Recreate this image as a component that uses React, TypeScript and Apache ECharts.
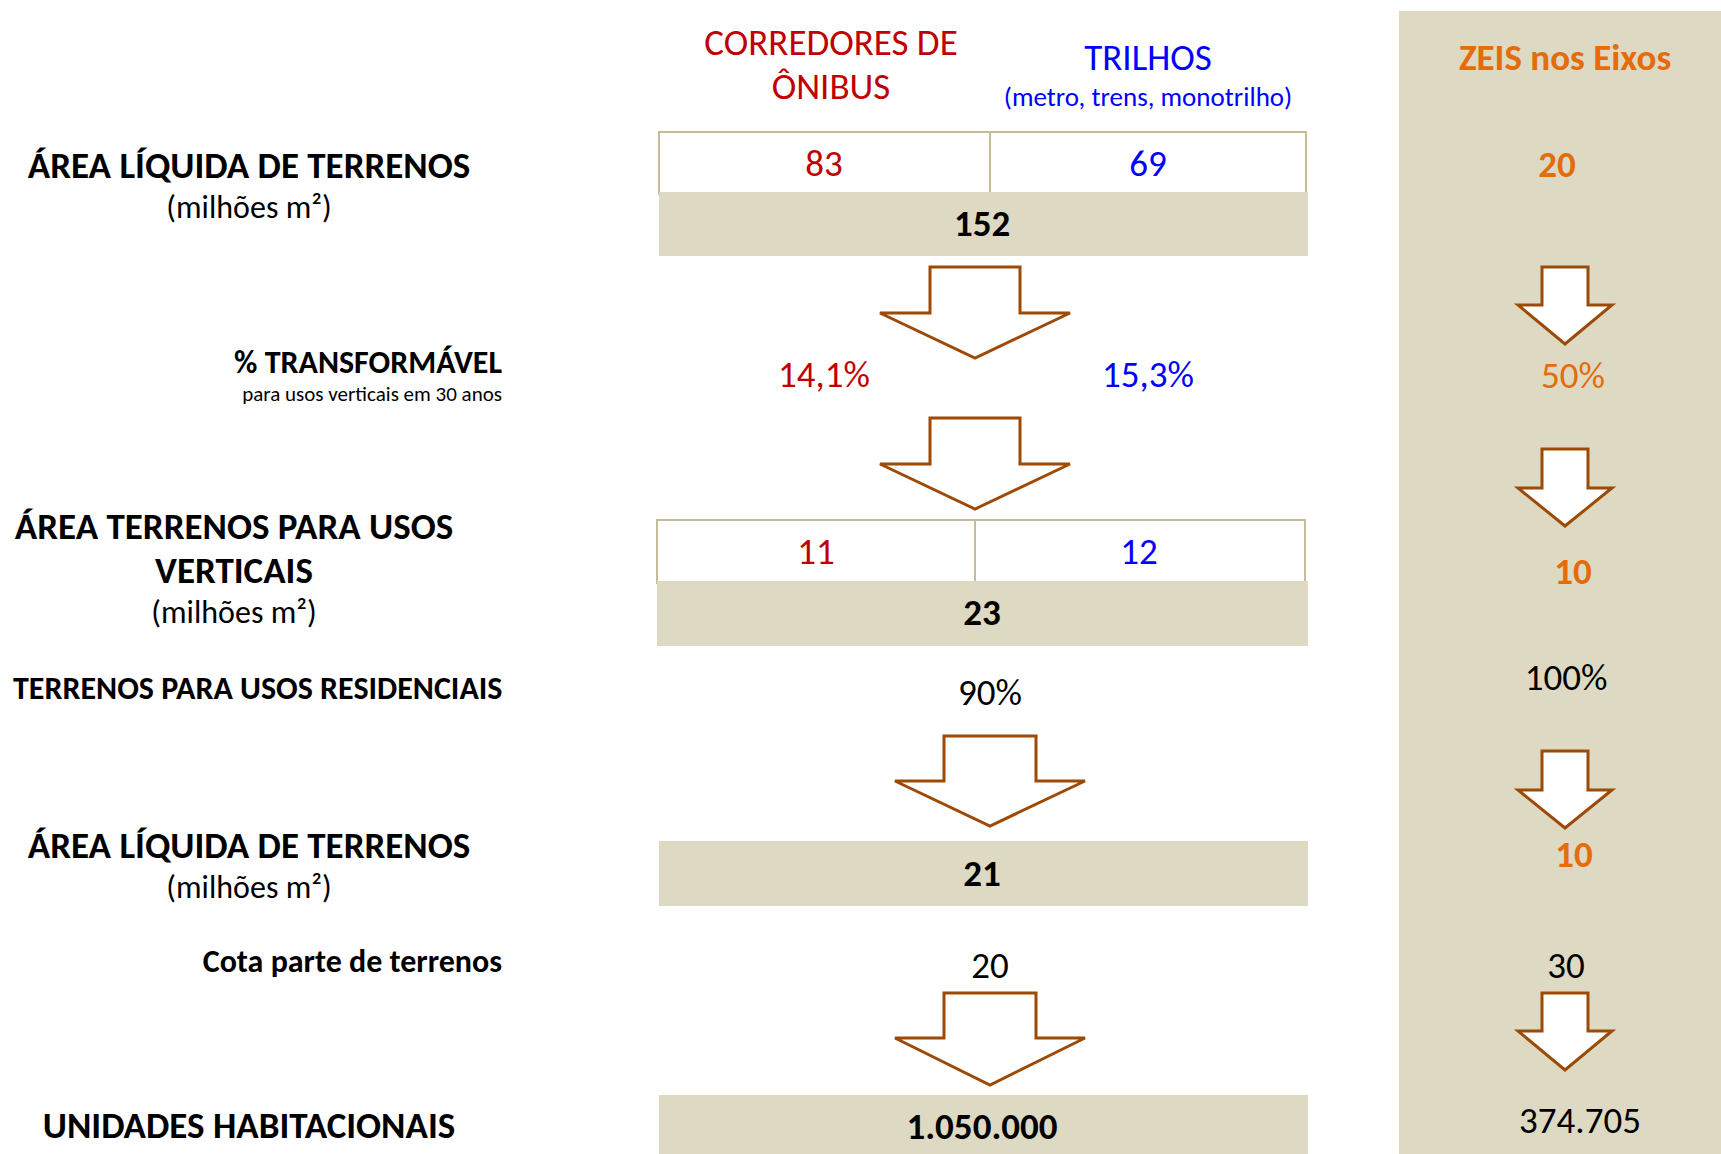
import React, { useEffect, useRef } from "react";
import * as echarts from "echarts";

const FONT = "Carlito, Lato, 'Open Sans', sans-serif";

const RED = "#C00000";
const BLUE = "#0000FF";
const ORANGE = "#E46C0A";
const TAN = "#DDD9C3";
const BORDER = "#C4BD97";
const ARROW = "#9C4A06";

// Row labels (left column)
const rowTitles = [
  "ÁREA LÍQUIDA DE TERRENOS",
  "% TRANSFORMÁVEL",
  "ÁREA TERRENOS PARA USOS",
  "VERTICAIS",
  "TERRENOS PARA USOS RESIDENCIAIS",
  "ÁREA LÍQUIDA DE TERRENOS",
  "Cota parte de terrenos",
  "UNIDADES HABITACIONAIS",
];
const unitLabel = "(milhões m²)";
const transfSub = "para usos verticais em 30 anos";

// Column headers
const busHeader = ["CORREDORES DE", "ÔNIBUS"];
const railHeader = ["TRILHOS", "(metro, trens, monotrilho)"];
const zeisHeader = "ZEIS nos Eixos";

// Values
const busValues = ["83", "14,1%", "11"];
const railValues = ["69", "15,3%", "12"];
const totalValues = ["152", "23", "21", "1.050.000"];
const sharedValues = ["90%", "20"];
const zeisValues = ["20", "50%", "10", "100%", "10", "30", "374.705"];

const DY = -2;

function txt(x: number, y: number, text: string, size: number, fill: string, bold = false, align = "center") {
  return {
    type: "text",
    x,
    y: y + DY,
    silent: true,
    style: {
      text,
      fill,
      fontSize: size,
      fontWeight: bold ? "bold" : "normal",
      fontFamily: FONT,
      align,
      verticalAlign: "middle",
      textAlign: align,
      textVerticalAlign: "middle",
    },
  };
}

function arrow(cx: number, top: number, head: number, tip: number, sh: number, hh: number) {
  return {
    type: "polygon",
    silent: true,
    shape: {
      points: [
        [cx - sh, top],
        [cx + sh, top],
        [cx + sh, head],
        [cx + hh, head],
        [cx, tip],
        [cx - hh, head],
        [cx - sh, head],
      ],
    },
    style: { fill: "#ffffff", stroke: ARROW, lineWidth: 3 },
  };
}

function rect(x: number, y: number, w: number, h: number, fill: string, stroke?: string) {
  return {
    type: "rect",
    silent: true,
    shape: { x, y, width: w, height: h },
    style: stroke ? { fill, stroke, lineWidth: 2 } : { fill },
  };
}

function line(x1: number, y1: number, x2: number, y2: number) {
  return {
    type: "line",
    silent: true,
    shape: { x1, y1, x2, y2 },
    style: { stroke: BORDER, lineWidth: 2 },
  };
}

export default function App() {
  const ref = useRef<HTMLDivElement>(null);
  useEffect(() => {
    if (!ref.current) return;
    const chart = echarts.init(ref.current, undefined, { renderer: "svg" });
    const BX = 659;
    const BW = 649;
    const V = 37;
    const S = 32;
    const elements: any[] = [
      // right panel
      rect(1399, 11, 322, 1143, TAN),
      // box 1
      rect(BX, 132, 647, 62, "#ffffff", BORDER),
      line(990, 132, 990, 192),
      rect(BX, 192, BW, 64, TAN),
      // box 2
      rect(657, 520, 648, 63, "#ffffff", BORDER),
      line(975, 520, 975, 581),
      rect(657, 581, 651, 65, TAN),
      // total 3
      rect(BX, 841, BW, 65, TAN),
      // total 4
      rect(BX, 1095, BW, 59, TAN),
      // arrows middle
      arrow(975, 267, 313, 358, 45, 95),
      arrow(975, 418, 464, 509, 45, 95),
      arrow(990, 736, 781, 826, 46, 95),
      arrow(990, 993, 1038, 1085, 46, 95),
      // arrows right
      arrow(1565, 267, 305, 344, 23, 47),
      arrow(1565, 449, 488, 526, 23, 47),
      arrow(1565, 751, 790, 828, 23, 47),
      arrow(1565, 993, 1031, 1070, 23, 47),

      // headers
      txt(831, 44, busHeader[0], V, RED),
      txt(831, 88, busHeader[1], V, RED),
      txt(1148, 59, railHeader[0], V, BLUE),
      txt(1148, 98, railHeader[1], 27, BLUE),
      txt(1565, 59, zeisHeader, V, ORANGE, true),

      // left labels
      txt(249, 167, rowTitles[0], V, "#000", true),
      txt(249, 209, unitLabel, S, "#000"),
      txt(502, 364, rowTitles[1], S, "#000", true, "right"),
      txt(502, 396, transfSub, 21, "#000", false, "right"),
      txt(234, 528, rowTitles[2], V, "#000", true),
      txt(234, 572, rowTitles[3], V, "#000", true),
      txt(234, 614, unitLabel, S, "#000"),
      txt(13, 690, rowTitles[4], S, "#000", true, "left"),
      txt(249, 847, rowTitles[5], V, "#000", true),
      txt(249, 889, unitLabel, S, "#000"),
      txt(502, 963, rowTitles[6], S, "#000", true, "right"),
      txt(249, 1127, rowTitles[7], V, "#000", true),

      // bus / rail values
      txt(824, 165, busValues[0], V, RED),
      txt(1148, 165, railValues[0], V, BLUE),
      txt(824, 376, busValues[1], V, RED),
      txt(1148, 376, railValues[1], V, BLUE),
      txt(816, 553, busValues[2], V, RED),
      txt(1139, 553, railValues[2], V, BLUE),

      // totals
      txt(982, 225, totalValues[0], V, "#000", true),
      txt(982, 614, totalValues[1], V, "#000", true),
      txt(982, 875, totalValues[2], V, "#000", true),
      txt(982, 1128, totalValues[3], V, "#000", true),
      txt(990, 694, sharedValues[0], V, "#000"),
      txt(990, 967, sharedValues[1], V, "#000"),

      // zeis
      txt(1557, 166, zeisValues[0], V, ORANGE, true),
      txt(1573, 377, zeisValues[1], V, ORANGE),
      txt(1573, 573, zeisValues[2], V, ORANGE, true),
      txt(1566, 679, zeisValues[3], V, "#000"),
      txt(1574, 856, zeisValues[4], V, ORANGE, true),
      txt(1566, 967, zeisValues[5], V, "#000"),
      txt(1580, 1122, zeisValues[6], V, "#000"),
    ];
    chart.setOption({
      animation: false,
      backgroundColor: "#ffffff",
      graphic: { elements },
    });
    return () => chart.dispose();
  }, []);
  return (
    <div
      ref={ref}
      style={{ position: "fixed", left: 0, top: 0, width: 1721, height: 1154 }}
    />
  );
}
